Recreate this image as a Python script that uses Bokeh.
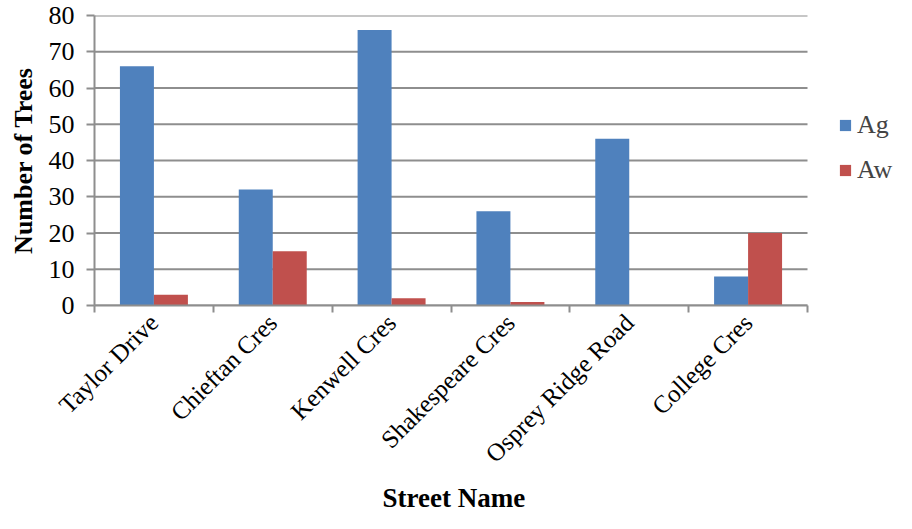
import numpy as np
from bokeh.plotting import figure
from bokeh.models import Range1d, FixedTicker, Legend, LegendItem, ColumnDataSource, Title
from bokeh.embed import file_html
from bokeh.resources import INLINE

streets = ["Taylor Drive", "Chieftan Cres", "Kenwell Cres", "Shakespeare Cres",
           "Osprey Ridge Road", "College Cres"]
ag = [66, 32, 76, 26, 46, 8]
aw = [3, 15, 2, 1, 0, 20]
y_ticks = [0, 10, 20, 30, 40, 50, 60, 70, 80]
x_title = "Street Name"
y_title = "Number of Trees"

FONT = "Liberation Serif"
GRAY = "#8e8e8e"
n = len(streets)
centers = np.arange(n) + 0.5
bw = 0.286

# layout: the data area is 713px wide; the frame is extended right to hold the legend
W, H, LEFT = 896, 513, 94
DATA_W = 713
FRAME_W = W - LEFT
x_end = n * FRAME_W / DATA_W

src = ColumnDataSource(dict(x_ag=centers - bw / 2, x_aw=centers + bw / 2, ag=ag, aw=aw))

p = figure(width=W, height=H, output_backend="svg", toolbar_location=None,
           x_range=Range1d(0, x_end), y_range=Range1d(y_ticks[0], y_ticks[-1]),
           min_border_left=LEFT, min_border_right=0, min_border_top=15,
           min_border_bottom=208)
p.outline_line_color = None
p.xgrid.visible = False
p.ygrid.visible = False

# horizontal gridlines over the data area only
p.segment(x0=0, x1=n, y0=y_ticks, y1=y_ticks, line_color=GRAY, line_width=2)

r1 = p.vbar(x="x_ag", top="ag", bottom=0, width=bw, source=src,
            fill_color="#4F81BD", line_color=None)
r2 = p.vbar(x="x_aw", top="aw", bottom=0, width=bw, source=src,
            fill_color="#C0504D", line_color=None)

# x axis
xa = p.xaxis[0]
xa.bounds = (0, n)
xa.ticker = FixedTicker(ticks=list(centers), minor_ticks=list(np.arange(n + 1)))
xa.major_label_overrides = {float(c): s for c, s in zip(centers, streets)}
xa.major_label_orientation = np.pi / 4
xa.major_tick_line_color = None
xa.major_tick_in = 0
xa.major_tick_out = 0
xa.minor_tick_line_color = GRAY
xa.minor_tick_line_width = 2
xa.minor_tick_in = 0
xa.minor_tick_out = 7
xa.axis_line_color = GRAY
xa.axis_line_width = 2
xa.major_label_text_font = FONT
xa.major_label_text_font_size = "25px"
xa.major_label_text_color = "black"
xa.major_label_standoff = 6

# x title placed under the data area (not the whole frame)
p.add_layout(Title(text=x_title, align="left", offset=288, standoff=0,
                   text_font=FONT, text_font_size="27px", text_font_style="bold",
                   text_color="black"), "below")

# y axis
ya = p.yaxis[0]
ya.ticker = FixedTicker(ticks=y_ticks, minor_ticks=[])
ya.major_tick_in = 0
ya.major_tick_out = 8
ya.major_tick_line_color = GRAY
ya.major_tick_line_width = 2
ya.axis_line_color = GRAY
ya.axis_line_width = 2
ya.major_label_text_font = FONT
ya.major_label_text_font_size = "26px"
ya.major_label_text_color = "black"
ya.major_label_standoff = 12
ya.axis_label = y_title
ya.axis_label_text_font = FONT
ya.axis_label_text_font_size = "26px"
ya.axis_label_text_font_style = "bold"
ya.axis_label_text_color = "black"
ya.axis_label_standoff = 8

legend = Legend(items=[LegendItem(label="Ag", renderers=[r1]),
                       LegendItem(label="Aw", renderers=[r2])],
                location=(744, 120), glyph_width=14, glyph_height=14,
                label_text_font=FONT, label_text_font_size="26px",
                label_standoff=5, spacing=15, padding=0, margin=0,
                border_line_color=None, background_fill_alpha=0)
p.add_layout(legend)

open("out.html", "w").write(file_html(p, INLINE))
